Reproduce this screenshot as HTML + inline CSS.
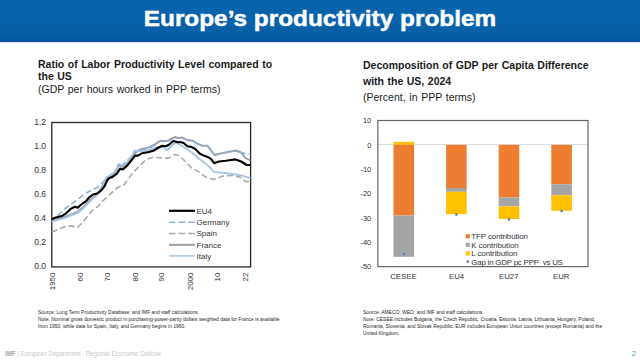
<!DOCTYPE html>
<html><head><meta charset="utf-8">
<style>
html,body{margin:0;padding:0;}
body{width:640px;height:360px;overflow:hidden;position:relative;background:#fff;font-family:"Liberation Sans",sans-serif;color:#1a1a1a;}
.hdr{position:absolute;left:0;top:0;width:640px;height:42px;background:linear-gradient(#0863aa 0%,#0862a9 55%,#075ea4 90%,#05518f 100%);border-bottom:1px solid #d6e9f5;}
.hdr .t{position:absolute;left:0;width:640px;top:5.8px;text-align:center;color:#fff;font-weight:bold;font-size:22.4px;line-height:26px;white-space:nowrap;-webkit-text-stroke:0.45px #fff;}
.hdr .t span{display:inline-block;transform:scaleX(1.088);transform-origin:50% 50%;}
.abs{position:absolute;white-space:nowrap;}
.ttl{font-size:10.5px;font-weight:bold;word-spacing:0.6px;}
.sub{font-size:10.5px;word-spacing:0.8px;}
.fn{font-size:5.6px;line-height:7px;color:#262626;transform:scaleX(0.885);transform-origin:0 0;}
</style></head><body>
<div class="hdr"><div class="t"><span>Europe’s productivity problem</span></div></div>

<div class="abs ttl" style="left:38px;top:58px;line-height:12.2px">Ratio of Labor Productivity Level compared to<br>the US</div>
<div class="abs sub" style="left:38px;top:82.5px;line-height:12px">(GDP per hours worked in PPP terms)</div>

<div class="abs ttl" style="left:363px;top:57.3px;line-height:16px">Decomposition of GDP per Capita Difference<br>with the US, 2024</div>
<div class="abs sub" style="left:363px;top:90.8px;line-height:12px">(Percent, in PPP terms)</div>

<svg class="abs" style="left:0;top:0" width="640" height="360" viewBox="0 0 640 360" font-family="Liberation Sans, sans-serif">
<g font-size="8" fill="#333">
<rect x="51.8" y="122.5" width="198.8" height="144.4" fill="none" stroke="#262626" stroke-width="1.3"/>
<text x="46" y="124.9" text-anchor="end" font-size="8.5">1.2</text>
<text x="46" y="149.0" text-anchor="end" font-size="8.5">1.0</text>
<text x="46" y="173.0" text-anchor="end" font-size="8.5">0.8</text>
<text x="46" y="197.1" text-anchor="end" font-size="8.5">0.6</text>
<text x="46" y="221.2" text-anchor="end" font-size="8.5">0.4</text>
<text x="46" y="245.2" text-anchor="end" font-size="8.5">0.2</text>
<text x="46" y="269.3" text-anchor="end" font-size="8.5">0.0</text>
<text transform="translate(55.4,272.5) rotate(-90)" text-anchor="end">1950</text>
<text transform="translate(82.9,272.5) rotate(-90)" text-anchor="end">60</text>
<text transform="translate(110.4,272.5) rotate(-90)" text-anchor="end">70</text>
<text transform="translate(137.9,272.5) rotate(-90)" text-anchor="end">80</text>
<text transform="translate(164.4,272.5) rotate(-90)" text-anchor="end">90</text>
<text transform="translate(192.9,272.5) rotate(-90)" text-anchor="end">2000</text>
<text transform="translate(219.9,272.5) rotate(-90)" text-anchor="end">10</text>
<text transform="translate(247.7,272.5) rotate(-90)" text-anchor="end">22</text>
<g fill="none" stroke-linejoin="round">
<polyline points="51.8,232.2 60.0,228.5 67.8,225.8 72.2,226.1 77.8,227.2 82.2,222.8 86.7,217.2 91.1,211.7 98.9,205.6 101.7,201.7 107.2,197.2 113.9,190.6 118.3,187.2 123.9,185.0 132.8,172.8 139.4,166.1 146.1,159.4 152.8,157.2 156.2,157.5 162.5,158.1 168.8,158.1 175.0,154.4 180.0,156.2 185.0,161.2 191.2,167.5 198.9,171.9 206.1,177.3 213.3,179.6 223.0,176.1 232.8,175.4 241.1,177.5 245.3,181.7 250.5,181.0" stroke="#a9a9a9" stroke-width="1.6" stroke-dasharray="6,3"/>
<polyline points="51.8,220.5 55.0,220.0 66.1,216.3 77.8,211.8 83.9,206.3 91.7,198.5 99.4,192.0 106.1,178.5 110.6,176.0 116.1,172.0 118.3,165.5 121.7,166.8 127.2,163.2 132.8,155.5 135.0,153.0 141.1,149.1 148.9,147.4 155.6,144.1 160.0,140.8 165.6,141.3 168.9,140.2 175.0,136.9 178.8,138.1 182.5,137.5 187.5,140.0 192.5,140.6 197.5,143.8 202.5,145.6 207.5,145.6 210.6,149.7 214.7,155.3 218.9,153.9 225.8,152.5 235.6,150.4 241.1,152.5 245.3,158.0 250.5,160.5" stroke="#9b9b9b" stroke-width="1.9"/>
<polyline points="57.5,215.5 59.4,213.9 66.1,207.8 72.8,202.8 80.6,197.2 87.7,192.2 91.7,190.0 96.3,188.0 99.0,186.0 103.0,182.0 108.3,177.0 118.3,167.7 126.0,162.0 131.0,156.5 135.0,151.0 141.7,150.0 150.0,148.0 155.0,144.5 160.0,141.2 165.0,141.5 170.0,140.5 175.0,137.5 178.8,138.5 182.5,138.0 187.5,140.5 192.5,141.0 197.5,144.0 202.5,146.0 207.5,146.0 210.6,150.0 214.7,154.5 218.9,153.5 225.8,152.5 235.6,151.0 241.1,152.5 246.0,154.0 250.5,154.0" stroke="#8eb0d6" stroke-width="1.6" stroke-dasharray="6,3"/>
<polyline points="51.8,221.9 55.0,220.8 66.1,217.4 77.8,213.0 83.9,207.5 91.7,199.6 99.4,193.0 106.1,177.5 110.6,175.0 116.1,171.1 118.3,163.8 121.7,165.6 127.2,162.2 132.8,154.4 134.4,150.6 141.1,151.3 148.9,150.2 157.8,146.9 163.3,146.9 166.7,150.2 168.9,148.6 172.5,145.0 176.2,142.5 181.2,145.6 187.5,149.4 192.5,153.1 197.5,157.5 202.5,161.2 208.8,166.2 214.0,172.0 221.7,172.6 232.8,174.0 241.1,175.4 250.5,178.0" stroke="#a5c4e4" stroke-width="1.8"/>
<polyline points="51.8,219.2 55.0,217.8 61.7,216.1 66.1,213.3 70.6,208.9 75.0,206.7 77.8,207.8 80.6,205.0 86.1,201.1 89.0,197.5 93.0,194.5 97.0,193.5 101.0,190.7 104.3,186.7 107.0,180.9 108.5,178.5 112.8,176.7 117.2,173.3 120.0,168.9 122.8,169.4 127.2,165.6 131.7,160.0 135.0,155.6 137.8,155.6 142.2,153.2 148.9,152.0 153.3,150.8 157.8,148.0 162.2,145.8 165.6,146.3 168.9,144.7 173.3,141.0 178.3,142.3 180.0,141.9 183.8,143.1 187.5,146.2 191.2,146.9 195.0,148.8 200.0,153.8 203.8,155.6 208.8,157.5 211.0,159.0 214.2,163.2 218.9,161.5 225.8,160.8 235.6,159.4 241.1,161.5 246.7,165.0 250.5,165.0" stroke="#000" stroke-width="2.1"/>
<line x1="169" y1="210.8" x2="195" y2="210.8" stroke="#000" stroke-width="2.2"/>
<line x1="169" y1="222.2" x2="195" y2="222.2" stroke="#8eb0d6" stroke-width="1.6" stroke-dasharray="6.5,3.2"/>
<line x1="169" y1="233.5" x2="195" y2="233.5" stroke="#a9a9a9" stroke-width="1.6" stroke-dasharray="6.5,3.2"/>
<line x1="169" y1="244.8" x2="195" y2="244.8" stroke="#9b9b9b" stroke-width="1.9"/>
<line x1="169" y1="255.9" x2="195" y2="255.9" stroke="#a5c4e4" stroke-width="1.5"/>
</g>
<text x="196.5" y="213.6">EU4</text>
<text x="196.5" y="225.0">Germany</text>
<text x="196.5" y="236.3">Spain</text>
<text x="196.5" y="247.6">France</text>
<text x="196.5" y="258.7">Italy</text>
</g>
<g font-size="7.5" fill="#333">
<line x1="378" y1="144.6" x2="587.5" y2="144.6" stroke="#d9d9d9" stroke-width="1"/>
<rect x="393.50" y="141.80" width="20.60" height="3.05" fill="#ffc000"/>
<rect x="393.50" y="144.85" width="20.60" height="70.65" fill="#ed7d31"/>
<rect x="393.50" y="215.50" width="20.60" height="41.30" fill="#a5a5a5"/>
<circle cx="403.8" cy="254.0" r="1.3" fill="#4f81bd"/>
<rect x="446.10" y="144.85" width="20.60" height="43.15" fill="#ed7d31"/>
<rect x="446.10" y="188.00" width="20.60" height="3.80" fill="#a5a5a5"/>
<rect x="446.10" y="191.80" width="20.60" height="22.30" fill="#ffc000"/>
<circle cx="456.4" cy="214.4" r="1.3" fill="#4f81bd"/>
<rect x="498.70" y="144.85" width="20.60" height="52.65" fill="#ed7d31"/>
<rect x="498.70" y="197.50" width="20.60" height="8.80" fill="#a5a5a5"/>
<rect x="498.70" y="206.30" width="20.60" height="12.70" fill="#ffc000"/>
<circle cx="509.0" cy="219.4" r="1.3" fill="#4f81bd"/>
<rect x="551.30" y="144.85" width="20.60" height="39.45" fill="#ed7d31"/>
<rect x="551.30" y="184.30" width="20.60" height="11.00" fill="#a5a5a5"/>
<rect x="551.30" y="195.30" width="20.60" height="15.50" fill="#ffc000"/>
<circle cx="561.6" cy="211.0" r="1.3" fill="#4f81bd"/>
<rect x="377.8" y="120.5" width="210.2" height="146.1" fill="none" stroke="#666" stroke-width="1.2"/>
<text x="371.3" y="123.2" text-anchor="end">10</text>
<text x="371.3" y="147.5" text-anchor="end">0</text>
<text x="371.3" y="171.9" text-anchor="end">-10</text>
<text x="371.3" y="196.2" text-anchor="end">-20</text>
<text x="371.3" y="220.6" text-anchor="end">-30</text>
<text x="371.3" y="244.9" text-anchor="end">-40</text>
<text x="371.3" y="269.3" text-anchor="end">-50</text>
<text x="403.4" y="278.8" text-anchor="middle" font-size="7.8">CESEE</text>
<text x="456.6" y="278.8" text-anchor="middle" font-size="7.8">EU4</text>
<text x="508.8" y="278.8" text-anchor="middle" font-size="7.8">EU27</text>
<text x="561.2" y="278.8" text-anchor="middle" font-size="7.8">EUR</text>
<rect x="465.7" y="234.2" width="4.2" height="4.2" fill="#ed7d31"/>
<text x="471.3" y="239.0" font-size="7.9" letter-spacing="-0.07">TFP contribution</text>
<rect x="465.7" y="242.7" width="4.2" height="4.2" fill="#a5a5a5"/>
<text x="471.3" y="247.5" font-size="7.9" letter-spacing="-0.07">K contribution</text>
<rect x="465.7" y="251.3" width="4.2" height="4.2" fill="#ffc000"/>
<text x="471.3" y="256.1" font-size="7.9" letter-spacing="-0.07">L contribution</text>
<circle cx="467.8" cy="261.6" r="1.3" fill="#4f81bd"/>
<text x="471.3" y="264.6" font-size="7.9" letter-spacing="-0.2" style="white-space:pre">Gap in GDP pc PPP  vs US</text>
</g>
</svg>

<div class="abs fn" style="left:38px;top:308.6px">Source: Long Term Productivity Database; and IMF and staff calculations.<br>Note: Nominal gross domestic product in purchasing-power-parity dollars weighted data for France is available<br>from 1950, while data for Spain, Italy, and Germany begins in 1960.</div>
<div class="abs fn" style="left:363px;top:309px">Source:  AMECO; WEO; and IMF and staff calculations.<br>Note: CESEE includes Bulgaria, the Czech Republic, Croatia, Estonia, Latvia, Lithuania, Hungary, Poland,<br>Romania, Slovenia, and Slovak Republic.  EUR includes European Union countries (except Romania) and the<br>United Kingdom.</div>

<div class="abs" style="left:5px;top:350px;font-size:7px;line-height:8px;color:#c8c8c8;transform:scaleX(0.87);transform-origin:0 0"><b style="color:#a8a8a8">IMF</b> | European Department - Regional Economic Outlook</div>
<div class="abs" style="left:631.5px;top:349px;font-size:8px;line-height:9px;color:#4aa8d8">2</div>
</body></html>
